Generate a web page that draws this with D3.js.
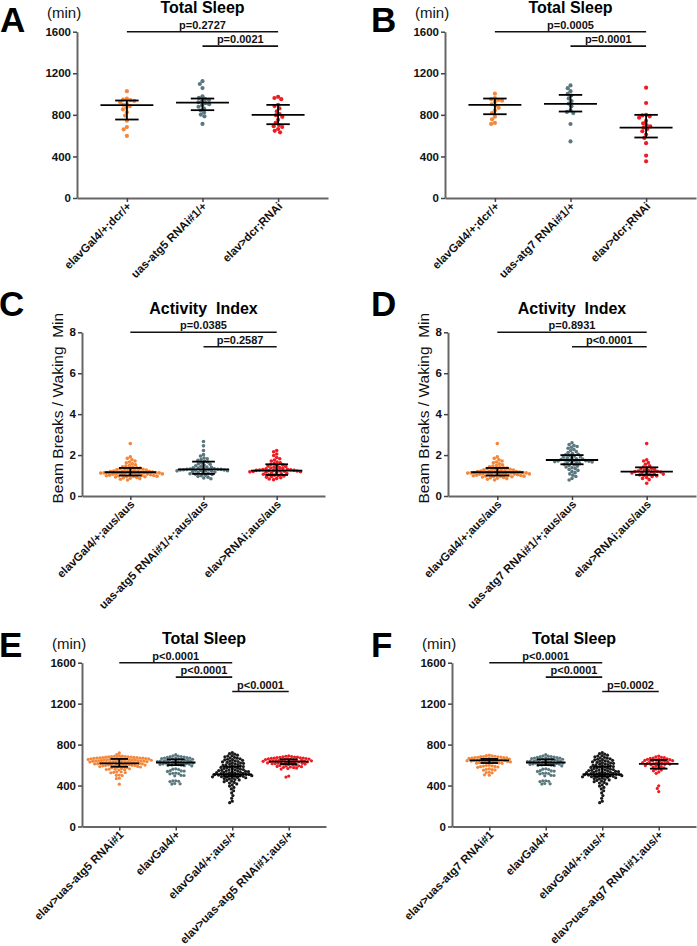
<!DOCTYPE html>
<html>
<head>
<meta charset="utf-8">
<script src="https://cdn.jsdelivr.net/npm/d3@7"></script>
<style>
  body { margin: 0; background: #fff; }
  svg text { font-family: "Liberation Sans", Arial, sans-serif; }
</style>
</head>
<body>
<svg id="fig" width="697" height="946"></svg>
<script>
// ---- tick labels
const sleepTicks = [0, 400, 800, 1200, 1600];
const activityTicks = [0, 2, 4, 6, 8];

// ---- colours per genotype role
const ORANGE = "#f5873a", GRAY = "#5b7880", RED = "#ee1d23", BLACK = "#1a1a1a";

// ---- Panel A: total sleep (min)
const catsA = ["elavGal4/+;dcr/+", "uas-atg5 RNAi#1/+", "elav>dcr;RNAi"];
const sleepA_ctrl = [1028, 956, 947, 941, 934, 922, 907, 896, 884, 869, 852, 826, 793, 744, 682, 661, 597];
const sleepA_atg5 = [1124, 1097, 1058, 978, 963, 952, 944, 931, 921, 912, 903, 893, 878, 861, 842, 823, 803, 786, 713];
const sleepA_rnai = [973, 962, 951, 897, 884, 862, 834, 808, 797, 781, 752, 723, 702, 691, 683, 664, 646, 632];
const medA = [893, 918, 800], loA = [755, 845, 710], hiA = [938, 957, 896];
const pA = ["p=0.2727", "p=0.0021"];
const pairsA = [[0, 2], [1, 2]];

// ---- Panel B: total sleep (min)
const catsB = ["elavGal4/+;dcr/+", "uas-atg7 RNAi#1/+", "elav>dcr;RNAi"];
const sleepB_ctrl = [1004, 962, 951, 944, 936, 924, 902, 887, 868, 843, 818, 782, 757, 722, 713];
const sleepB_atg7 = [1083, 1057, 1028, 1002, 986, 958, 933, 908, 882, 843, 828, 817, 712, 544];
const sleepB_rnai = [1061, 914, 801, 794, 786, 773, 742, 718, 701, 689, 677, 663, 642, 611, 578, 527, 408, 353];
const medB = [896, 906, 678], loB = [806, 832, 582], hiB = [957, 992, 800];
const pB = ["p=0.0005", "p=0.0001"];
const pairsB = [[0, 2], [1, 2]];

// ---- Panels C / D: activity index (beam breaks per waking min)
const catsC = ["elavGal4/+;aus/aus", "uas-atg5 RNAi#1/+;aus/aus", "elav>RNAi;aus/aus"];
const catsD = ["elavGal4/+;aus/aus", "uas-atg7 RNAi#1/+;aus/aus", "elav>RNAi;aus/aus"];
const actCtrl = [2.56, 1.91, 1.84, 1.77, 1.71, 1.66, 1.62, 1.57, 1.53, 1.49, 1.46, 1.43, 1.41, 1.38, 1.36,
  1.34, 1.33, 1.31, 1.30, 1.28, 1.27, 1.26, 1.25, 1.23, 1.22, 1.21, 1.20, 1.19, 1.18, 1.17, 1.17, 1.16,
  1.15, 1.15, 1.14, 1.13, 1.13, 1.12, 1.11, 1.10, 1.10, 1.09, 1.08, 1.07, 1.06, 1.05, 1.05, 1.04, 1.03,
  1.02, 1.01, 1.00, 0.99, 0.98, 0.97, 0.96, 0.95, 0.94, 0.93, 0.91, 0.89, 0.87, 0.85, 0.82, 0.78];
const actC_atg5 = [2.66, 2.45, 2.22, 2.02, 1.95, 1.86, 1.82, 1.78, 1.74, 1.70, 1.66, 1.62, 1.58, 1.55, 1.51,
  1.48, 1.45, 1.42, 1.40, 1.38, 1.36, 1.34, 1.33, 1.32, 1.31, 1.30, 1.30, 1.29, 1.28, 1.27, 1.27, 1.26,
  1.25, 1.24, 1.23, 1.22, 1.21, 1.19, 1.17, 1.15, 1.13, 1.11, 1.09, 1.07, 1.05, 1.02, 0.99, 0.96, 0.92,
  0.88, 0.84];
const actC_rnai = [2.22, 2.16, 2.05, 1.98, 1.88, 1.82, 1.76, 1.71, 1.66, 1.62, 1.58, 1.55, 1.52, 1.49, 1.46,
  1.44, 1.41, 1.39, 1.37, 1.35, 1.33, 1.31, 1.30, 1.29, 1.28, 1.27, 1.26, 1.25, 1.25, 1.24, 1.23, 1.22,
  1.21, 1.20, 1.19, 1.18, 1.16, 1.14, 1.12, 1.10, 1.08, 1.06, 1.04, 1.02, 1.00, 0.98, 0.95, 0.92, 0.89,
  0.86, 0.83, 0.80];
const actD_atg7 = [2.60, 2.52, 2.47, 2.42, 2.38, 2.33, 2.28, 2.22, 2.17, 2.12, 2.08, 2.04, 2.01, 1.98, 1.95,
  1.92, 1.90, 1.87, 1.85, 1.82, 1.80, 1.78, 1.76, 1.75, 1.74, 1.73, 1.72, 1.71, 1.70, 1.68, 1.66, 1.64,
  1.62, 1.60, 1.58, 1.55, 1.52, 1.49, 1.46, 1.42, 1.38, 1.34, 1.30, 1.25, 1.20, 1.14, 1.08, 1.02, 0.95,
  0.86, 0.78];
const actD_rnai = [2.56, 1.77, 1.71, 1.63, 1.55, 1.48, 1.42, 1.38, 1.35, 1.32, 1.29, 1.26, 1.24, 1.22, 1.20,
  1.19, 1.18, 1.17, 1.15, 1.13, 1.11, 1.09, 1.07, 1.05, 1.03, 1.01, 0.98, 0.95, 0.91, 0.86, 0.80, 0.62];
const medC = [1.16, 1.30, 1.24], loC = [1.00, 1.08, 1.03], hiC = [1.37, 1.68, 1.55];
const medD = [1.16, 1.76, 1.19], loD = [1.00, 1.55, 1.03], hiD = [1.37, 2.00, 1.40];
const pC = ["p=0.0385", "p=0.2587"];
const pD = ["p=0.8931", "p<0.0001"];
const pairsCD = [[0, 2], [1, 2]];

// ---- Panels E / F: total sleep (min), four genotypes
const catsE = ["elav>uas-atg5 RNAi#1", "elavGal4/+", "elavGal4/+;aus/+", "elav>uas-atg5 RNAi#1;aus/+"];
const catsF = ["elav>uas-atg7 RNAi#1", "elavGal4/+", "elavGal4/+;aus/+", "elav>uas-atg7 RNAi#1;aus/+"];
const sleepE_atg5 = [719, 703, 689, 687, 686, 684, 682, 681, 680, 678, 677, 675, 674, 673, 672, 670, 669, 668,
  667, 666, 664, 663, 662, 661, 659, 658, 657, 656, 655, 653, 652, 651, 650, 649, 647, 646, 645, 644, 642,
  641, 640, 639, 638, 636, 635, 634, 633, 631, 630, 629, 628, 627, 625, 623, 622, 620, 619, 617, 616, 614,
  612, 611, 609, 608, 606, 605, 603, 601, 600, 598, 596, 595, 593, 591, 589, 587, 585, 583, 581, 579, 577,
  575, 566, 564, 561, 559, 557, 555, 552, 534, 532, 529, 527, 525, 503, 500, 497, 472, 468, 413];
const sleepGal4 = [702, 690, 687, 684, 682, 679, 676, 674, 671, 669, 667, 664, 662, 659, 657, 655, 652, 650,
  648, 645, 643, 641, 638, 636, 634, 632, 629, 627, 625, 622, 620, 618, 615, 613, 611, 608, 606, 604, 601,
  599, 597, 594, 592, 563, 560, 557, 546, 543, 541, 538, 522, 520, 517, 515, 500, 498, 495, 447, 445, 442,
  439, 420, 417, 414];
const sleepGal4Aus = [722, 711, 706, 697, 693, 688, 681, 676, 671, 667, 662, 657, 653, 650, 646, 642, 639, 635,
  631, 627, 623, 620, 617, 613, 609, 605, 601, 597, 594, 590, 586, 583, 580, 577, 573, 570, 567, 563, 560,
  557, 554, 552, 549, 546, 543, 541, 538, 536, 533, 530, 528, 526, 523, 521, 519, 517, 514, 512, 510, 508,
  506, 504, 502, 500, 498, 496, 494, 492, 490, 488, 485, 482, 479, 476, 472, 468, 464, 459, 455, 450, 444,
  438, 431, 424, 416, 406, 395, 382, 367, 349, 328, 302, 276, 247, 233];
const sleepE_rnaiAus = [689, 686, 684, 681, 679, 677, 675, 673, 671, 669, 667, 666, 664, 662, 660, 659, 657,
  655, 654, 652, 650, 649, 647, 645, 644, 642, 641, 639, 637, 636, 634, 632, 631, 629, 627, 625, 623, 621,
  619, 617, 615, 613, 610, 608, 605, 602, 599, 596, 593, 590, 587, 584, 581, 578, 575, 571, 566, 561, 493, 483];
const sleepF_atg7 = [697, 692, 689, 686, 684, 682, 680, 678, 676, 674, 672, 670, 668, 667, 665, 663, 661, 659,
  657, 656, 654, 652, 650, 648, 646, 645, 643, 641, 639, 637, 635, 633, 631, 629, 627, 625, 623, 621, 619,
  617, 598, 596, 593, 590, 587, 584, 581, 578, 562, 559, 556, 553, 550, 530, 527, 524, 505, 501];
const sleepF_rnaiAus = [688, 681, 676, 672, 668, 665, 662, 659, 656, 653, 650, 648, 645, 643, 640, 637, 634,
  631, 628, 625, 622, 619, 616, 613, 610, 607, 603, 599, 595, 590, 585, 580, 574, 568, 561, 553, 544, 533,
  519, 397, 372, 341];
const medE = [617, 625, 510, 633], loE = [584, 600, 490, 610], hiE = [660, 656, 585, 656];
const medF = [645, 625, 510, 612], loF = [620, 600, 490, 565], hiF = [660, 656, 585, 650];
const pE = ["p<0.0001", "p<0.0001", "p<0.0001"];
const pF = ["p<0.0001", "p<0.0001", "p=0.0002"];
const pairsEF = [[0, 2], [1, 2], [2, 3]];

const svg = d3.select("#fig");

// simple beeswarm: put each point at the smallest offset that does not collide
function swarm(values, y, r) {
  const d = 2 * r * 0.92;
  const pts = values.map(v => ({ v, y: y(v) })).sort((a, b) => a.y - b.y);
  const placed = [];
  pts.forEach(p => {
    const bans = [];
    placed.forEach(q => {
      const dy = Math.abs(q.y - p.y);
      if (dy < d) {
        const w = Math.sqrt(d * d - dy * dy);
        bans.push([q.dx - w, q.dx + w]);
      }
    });
    const cands = [0];
    bans.forEach(b => cands.push(b[0], b[1]));
    cands.sort((a, b) => Math.abs(a) - Math.abs(b));
    p.dx = cands.find(c => bans.every(b => c <= b[0] + 1e-6 || c >= b[1] - 1e-6));
    placed.push(p);
  });
  return pts;
}

function drawPanel(p) {
  const g = svg.append("g");
  const x = d3.scalePoint().domain(p.cats).range([p.x0, p.x1]).padding(0.66);
  const y = d3.scaleLinear().domain([p.ticks[0], p.ticks[p.ticks.length - 1]]).range([p.yBot, p.yTop]);
  const step = x.step();

  // dots
  p.groups.forEach((vals, i) => {
    g.append("g").selectAll("circle")
      .data(swarm(vals, y, p.r))
      .join("circle")
      .attr("cx", d => x(p.cats[i]) + d.dx)
      .attr("cy", d => d.y)
      .attr("r", p.r)
      .attr("fill", p.colors[i]);
  });

  // median with interquartile range
  const medW = step * 0.35, capW = step * 0.155;
  p.cats.forEach((c, i) => {
    const cx = x(c);
    const eb = g.append("g").attr("stroke", "#000").attr("stroke-width", 1.8);
    eb.append("line").attr("x1", cx).attr("x2", cx).attr("y1", y(p.lo[i])).attr("y2", y(p.hi[i]));
    eb.append("line").attr("x1", cx - capW).attr("x2", cx + capW).attr("y1", y(p.lo[i])).attr("y2", y(p.lo[i]));
    eb.append("line").attr("x1", cx - capW).attr("x2", cx + capW).attr("y1", y(p.hi[i])).attr("y2", y(p.hi[i]));
    eb.append("line").attr("x1", cx - medW).attr("x2", cx + medW).attr("y1", y(p.med[i])).attr("y2", y(p.med[i]));
  });

  // axes
  const ya = g.append("g")
    .attr("transform", `translate(${p.x0},0)`)
    .call(d3.axisLeft(y).tickValues(p.ticks).tickFormat(d3.format("d"))
      .tickSize(4).tickSizeOuter(0).tickPadding(2));
  const xa = g.append("g")
    .attr("transform", `translate(0,${p.yBot})`)
    .call(d3.axisBottom(x).tickSize(4).tickSizeOuter(0).tickFormat(""));
  [ya, xa].forEach(a => {
    a.select(".domain").attr("stroke", "#666").attr("stroke-width", 2);
    a.selectAll(".tick line").attr("stroke", "#444").attr("stroke-width", 1.5);
  });
  ya.selectAll(".tick text")
    .attr("fill", "#111").attr("font-size", "11.5px").attr("font-weight", "bold")
    .style("font-family", '"Liberation Sans", Arial, sans-serif');

  g.append("g").selectAll("text")
    .data(p.cats)
    .join("text")
    .attr("transform", d => `translate(${x(d) + 5},${p.yBot + 9}) rotate(-45)`)
    .attr("text-anchor", "end")
    .attr("font-size", "11.5px")
    .attr("font-weight", "bold")
    .attr("fill", "#111")
    .text(d => d);

  // comparison bars
  p.pairs.forEach(([a, b], k) => {
    const ly = p.yTop + k * 14.4;
    g.append("line")
      .attr("x1", x(p.cats[a])).attr("x2", x(p.cats[b]))
      .attr("y1", ly).attr("y2", ly)
      .attr("stroke", "#111").attr("stroke-width", 1.6);
    g.append("text")
      .attr("x", (x(p.cats[a]) + x(p.cats[b])) / 2)
      .attr("y", ly - 3)
      .attr("text-anchor", "middle")
      .attr("font-size", "11px")
      .attr("font-weight", "bold")
      .attr("fill", "#111")
      .text(p.pvals[k]);
  });

  // title, panel letter, unit
  g.append("text")
    .attr("x", (p.x0 + p.x1) / 2).attr("y", p.yTop - 18.4)
    .attr("text-anchor", "middle").attr("font-size", "16px").attr("font-weight", "bold")
    .attr("fill", "#000").style("white-space", "pre")
    .text(p.title);
  g.append("text")
    .attr("x", p.letterX).attr("y", p.letterY)
    .attr("font-size", "35px").attr("font-weight", "bold").attr("fill", "#000")
    .text(p.letter);
  if (p.unit) {
    g.append("text")
      .attr("x", p.x0 - 30).attr("y", p.yTop - 13.5)
      .attr("font-size", "15px").attr("fill", "#111")
      .text(p.unit);
  }
  if (p.ylabel) {
    g.append("text")
      .attr("transform", `translate(${p.x0 - 19},${(p.yTop + p.yBot) / 2 - 6}) rotate(-90)`)
      .attr("text-anchor", "middle")
      .attr("font-size", "15.5px").attr("fill", "#111").style("white-space", "pre")
      .text(p.ylabel);
  }
}

drawPanel({ letter: "A", letterX: 0, letterY: 32, title: "Total Sleep", unit: "(min)",
  x0: 77, x1: 328, yTop: 31.7, yBot: 198, ticks: sleepTicks, r: 2.1,
  cats: catsA, groups: [sleepA_ctrl, sleepA_atg5, sleepA_rnai], colors: [ORANGE, GRAY, RED],
  med: medA, lo: loA, hi: hiA, pvals: pA, pairs: pairsA });
drawPanel({ letter: "B", letterX: 371, letterY: 32, title: "Total Sleep", unit: "(min)",
  x0: 445, x1: 696, yTop: 31.7, yBot: 198, ticks: sleepTicks, r: 2.1,
  cats: catsB, groups: [sleepB_ctrl, sleepB_atg7, sleepB_rnai], colors: [ORANGE, GRAY, RED],
  med: medB, lo: loB, hi: hiB, pvals: pB, pairs: pairsB });
drawPanel({ letter: "C", letterX: -1, letterY: 316, title: "Activity  Index", ylabel: "Beam Breaks / Waking  Min",
  x0: 82, x1: 325, yTop: 332.3, yBot: 496, ticks: activityTicks, r: 1.8,
  cats: catsC, groups: [actCtrl, actC_atg5, actC_rnai], colors: [ORANGE, GRAY, RED],
  med: medC, lo: loC, hi: hiC, pvals: pC, pairs: pairsCD });
drawPanel({ letter: "D", letterX: 371, letterY: 316, title: "Activity  Index", ylabel: "Beam Breaks / Waking  Min",
  x0: 448, x1: 696, yTop: 332.3, yBot: 496, ticks: activityTicks, r: 1.8,
  cats: catsD, groups: [actCtrl, actD_atg7, actD_rnai], colors: [ORANGE, GRAY, RED],
  med: medD, lo: loD, hi: hiD, pvals: pD, pairs: pairsCD });
drawPanel({ letter: "E", letterX: -1, letterY: 657, title: "Total Sleep", unit: "(min)",
  x0: 82, x1: 326, yTop: 662.7, yBot: 826.5, ticks: sleepTicks, r: 1.6,
  cats: catsE, groups: [sleepE_atg5, sleepGal4, sleepGal4Aus, sleepE_rnaiAus], colors: [ORANGE, GRAY, BLACK, RED],
  med: medE, lo: loE, hi: hiE, pvals: pE, pairs: pairsEF });
drawPanel({ letter: "F", letterX: 371, letterY: 657, title: "Total Sleep", unit: "(min)",
  x0: 452, x1: 696, yTop: 662.7, yBot: 826.5, ticks: sleepTicks, r: 1.6,
  cats: catsF, groups: [sleepF_atg7, sleepGal4, sleepGal4Aus, sleepF_rnaiAus], colors: [ORANGE, GRAY, BLACK, RED],
  med: medF, lo: loF, hi: hiF, pvals: pF, pairs: pairsEF });
</script>
</body>
</html>
